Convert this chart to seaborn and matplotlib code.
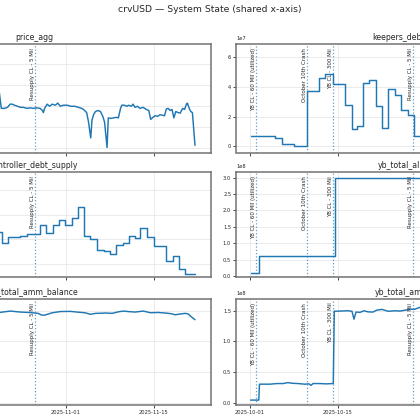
import pandas as pd
import matplotlib
matplotlib.use("Agg")
import matplotlib.pyplot as plt
import matplotlib.dates as mdates
from matplotlib.ticker import MultipleLocator
import seaborn as sns

START = pd.Timestamp("2025-10-01")
BLUE = "#1f77b4"

# all times are day offsets from 2025-10-01 00:00

# price_agg (line)
price_days = [0.33, 1.5, 3.0, 4.5, 6.0, 7.5, 9.0, 9.6, 9.9, 10.2, 11.0, 12.5, 14.0, 15.5,
              17.0, 18.5, 19.6, 20.0, 20.3, 20.7, 21.2, 21.7, 22.1, 22.45, 22.8, 23.3,
              23.7, 24.2, 24.8, 25.3, 25.8, 26.3, 26.9, 27.25, 27.4, 27.6, 28.0, 28.4,
              28.8, 29.3, 29.7, 30.1, 30.6, 31.2, 31.8, 32.4, 33.0, 33.5, 33.8, 34.3,
              34.6, 34.95, 35.15, 35.4, 35.7, 36.1, 36.5, 36.9, 37.15, 37.55, 37.75,
              38.1, 38.6, 39.0, 39.35, 39.7, 39.9, 40.3, 40.7, 41.0, 41.4, 41.7, 42.0,
              42.4, 42.8, 43.3, 43.8, 44.2, 44.5, 44.75, 45.2, 45.6, 46.0, 46.4, 46.7,
              47.0, 47.3, 47.6, 47.9, 48.2, 48.5, 48.9, 49.2, 49.6, 49.9, 50.2, 50.35,
              50.65, 50.9, 51.15, 51.56]
price_vals = [1.0004, 1.0006, 1.0003, 1.0008, 1.0005, 1.0002, 1.0004, 0.9978, 1.0055, 1.0012,
              1.0008, 1.0010, 1.0006, 1.0012, 1.0009, 1.0014, 1.0011, 1.0016, 1.0017, 0.9998,
              0.9998, 0.9999, 1.0002, 1.0002, 1.0001, 1.0000, 0.9999, 0.9999, 0.9998, 0.99985,
              0.9998, 0.99985, 0.9998, 0.9996, 0.9994, 0.9998, 1.0002, 1.0000, 1.0002, 1.0001,
              1.0003, 1.0000, 1.0001, 1.0001, 1.0000, 1.0000, 0.9999, 0.9998, 0.9997, 0.9994,
              0.9985, 0.9970, 0.9987, 0.9992, 0.9995, 0.9996, 0.9995, 0.9990, 0.9985, 0.9961,
              0.9989, 0.99885, 0.9989, 0.99895, 0.9989, 0.9998, 1.0001, 1.0001, 1.0000, 1.0001,
              1.0000, 1.0002, 0.9999, 1.0000, 0.9998, 0.9999, 0.9997, 0.9996, 0.99875, 0.9989,
              0.9991, 0.99905, 0.9992, 0.99915, 0.9991, 0.99975, 0.9998, 0.9996, 0.9997, 0.9989,
              0.9995, 0.9994, 0.99935, 0.9998, 0.9997, 1.0002, 1.0003, 0.9998, 0.9995, 0.9994,
              0.9963]

# controller_debt_supply (steps)
debt_days = [0.33, 1.0, 2.0, 3.0, 4.0, 5.0, 6.0, 7.0, 8.0, 9.0, 10.0, 11.0, 12.0, 13.0,
             14.0, 15.0, 16.0, 17.0, 18.0, 19.0, 20.0, 20.8, 21.69, 23.72, 24.78, 26.79,
             27.86, 28.93, 29.82, 30.89, 31.96, 32.85, 33.8, 34.87, 35.94, 36.99, 38.06,
             38.97, 40.08, 40.98, 41.93, 42.84, 43.91, 44.96, 46.94, 47.99, 48.94, 50.01, 51.6]
debt_vals = [1.205e8, 1.21e8, 1.198e8, 1.215e8, 1.23e8, 1.22e8, 1.24e8, 1.28e8, 1.35e8,
             1.30e8, 1.18e8, 1.15e8, 1.16e8, 1.14e8, 1.13e8, 1.15e8, 1.14e8, 1.12e8,
             1.135e8, 1.12e8, 1.1295e8, 1.0844e8, 1.109e8, 1.112e8, 1.1229e8, 1.1598e8,
             1.127e8, 1.1598e8, 1.1803e8, 1.157e8, 1.1869e8, 1.232e8, 1.1119e8, 1.0996e8,
             1.0574e8, 1.0504e8, 1.041e8, 1.075e8, 1.0844e8, 1.1131e8, 1.1049e8, 1.1459e8,
             1.109e8, 1.0709e8, 1.0107e8, 1.0299e8, 0.9795e8, 0.959e8, 0.959e8]

# left bottom panel (line)
lamm_days = [0.33, 1.4, 1.5, 5.0, 9.0, 13.3, 13.45, 15.0, 17.0, 19.0, 20.2, 20.53, 22.12,
             23.72, 25.31, 26.59, 27.06, 27.54, 28.18, 28.82, 30.09, 31.69, 32.96, 34.08,
             34.87, 35.67, 37.26, 38.38, 39.33, 40.13, 40.93, 42.04, 43.32, 44.43, 45.71,
             46.82, 47.78, 48.42, 49.21, 50.01, 50.49, 50.97, 51.56]
lamm_vals = [0.04e8, 0.04e8, 0.31e8, 0.32e8, 0.31e8, 0.32e8, 1.47e8, 1.48e8, 1.46e8, 1.49e8,
             1.47e8, 1.472e8, 1.493e8, 1.477e8, 1.469e8, 1.455e8, 1.43e8, 1.425e8, 1.445e8,
             1.465e8, 1.485e8, 1.488e8, 1.475e8, 1.465e8, 1.44e8, 1.455e8, 1.461e8, 1.456e8,
             1.48e8, 1.493e8, 1.485e8, 1.477e8, 1.493e8, 1.466e8, 1.47e8, 1.461e8, 1.45e8,
             1.433e8, 1.445e8, 1.456e8, 1.445e8, 1.40e8, 1.352e8]

# keepers_debt_supply (steps)
keep_days = [0.16, 3.98, 5.05, 7.06, 9.04, 11.0, 11.95, 13.15, 15.14, 16.21, 17.0, 18.02,
             19.03, 20.08, 21.08, 22.04, 23.12, 24.1, 25.18, 26.07, 28.0, 29.0, 30.0, 31.0,
             32.0, 33.0, 34.0, 35.0, 36.0, 37.0, 38.0, 39.0, 40.0, 41.0, 42.0, 43.0, 44.0,
             45.0, 46.0, 47.0, 48.0, 49.0, 50.0, 51.56]
keep_vals = [0.72e7, 0.59e7, 0.18e7, 0.02e7, 3.74e7, 4.58e7, 4.87e7, 4.2e7, 2.77e7, 1.2e7,
             1.37e7, 4.28e7, 4.47e7, 2.75e7, 1.22e7, 3.84e7, 3.47e7, 2.48e7, 2.14e7, 0.68e7,
             0.9e7, 2.2e7, 3.5e7, 4.8e7, 5.9e7, 6.55e7, 5.7e7, 4.1e7, 2.9e7, 3.6e7, 4.4e7,
             3.1e7, 2.0e7, 1.4e7, 2.6e7, 3.2e7, 2.1e7, 1.1e7, 0.8e7, 1.5e7, 0.9e7, 0.6e7,
             0.4e7, 0.4e7]

# yb_total_allocated (steps)
alloc_days = [0.16, 1.49, 13.56, 51.56]
alloc_vals = [0.08e8, 0.6e8, 3.0e8, 3.0e8]

# right bottom panel (line)
ramm_days = [0.11, 1.40, 1.51, 2.39, 3.19, 4.30, 5.26, 6.06, 6.69, 7.65, 8.76, 9.40, 9.72,
             10.04, 11.16, 12.11, 13.27, 13.43, 14.34, 15.62, 16.25, 16.57, 16.89, 17.53,
             18.17, 18.8, 19.6, 20.24, 21.04, 21.99, 23.11, 23.9, 24.86, 25.5, 26.14, 27.09,
             28.0, 30.0, 32.0, 34.0, 36.0, 38.0, 40.0, 43.0, 46.0, 49.0, 51.56]
ramm_vals = [0.04e8, 0.04e8, 0.30e8, 0.30e8, 0.30e8, 0.31e8, 0.31e8, 0.326e8, 0.315e8,
             0.31e8, 0.30e8, 0.305e8, 0.28e8, 0.31e8, 0.31e8, 0.305e8, 0.31e8, 1.49e8,
             1.493e8, 1.498e8, 1.49e8, 1.36e8, 1.477e8, 1.472e8, 1.498e8, 1.48e8, 1.477e8,
             1.51e8, 1.52e8, 1.49e8, 1.498e8, 1.493e8, 1.51e8, 1.526e8, 1.52e8, 1.554e8,
             1.56e8, 1.58e8, 1.60e8, 1.59e8, 1.61e8, 1.60e8, 1.58e8, 1.59e8, 1.57e8, 1.55e8,
             1.53e8]

event_days = [1.0, 9.1, 13.2, 26.05]
event_labels = ["YB CL - 60 Mil (utilized)", "October 10th Crash", "YB CL - 300 Mil",
                "Resupply CL - 5 Mil"]


def to_dates(days):
    return START + pd.to_timedelta(days, unit="D")


sns.set_theme(style="whitegrid", rc={
    "axes.edgecolor": "0.45",
    "axes.linewidth": 1.1,
    "grid.color": "0.91",
    "grid.linewidth": 0.6,
    "xtick.bottom": True,
    "ytick.left": True,
    "xtick.major.size": 2,
    "ytick.major.size": 2,
    "xtick.major.width": 0.6,
    "ytick.major.width": 0.6,
    "xtick.labelsize": 3.7,
    "ytick.labelsize": 3.7,
    "xtick.major.pad": 1.5,
    "ytick.major.pad": 1.5,
    "axes.titlesize": 5.6,
    "axes.titlepad": 3,
})
plt.rcParams["font.family"] = ["DejaVu Sans"]

W = 420
fig = plt.figure(figsize=(4.2, 4.2), dpi=100)


def rect(left, top, w, h):
    return [left / W, 1 - (top + h) / W, w / W, h / W]


col_left = [-142.6, 236]
col_w = 353.9
rows = [(44, 108.5), (172.3, 105), (299, 106)]

panels = [
    # (title, days, vals, step, col, row, ylim, ystep)
    ("price_agg", price_days, price_vals, False, 0, 0, (0.99562, 1.0059), 0.002),
    ("keepers_debt_supply", keep_days, keep_vals, True, 1, 0, (-0.41e7, 6.9e7), 2e7),
    ("controller_debt_supply", debt_days, debt_vals, True, 0, 1, (0.944e8, 1.374e8), 0.1e8),
    ("yb_total_allocated", alloc_days, alloc_vals, True, 1, 1, (-0.04e8, 3.16e8), 0.5e8),
    ("lp_total_amm_balance", lamm_days, lamm_vals, False, 0, 2, (-0.04e8, 1.69e8), 0.5e8),
    ("yb_total_amm_debt", ramm_days, ramm_vals, False, 1, 2, (-0.04e8, 1.69e8), 0.5e8),
]

xlim = (to_dates([-2.23])[0], to_dates([54.16])[0])
base = None
for title, days, vals, step, col, row, ylim, ystep in panels:
    top, h = rows[row]
    ax = fig.add_axes(rect(col_left[col], top, col_w, h), sharex=base)
    if base is None:
        base = ax
    sns.lineplot(x=to_dates(days), y=vals, ax=ax, color=BLUE, linewidth=1.05,
                 estimator=None, drawstyle="steps-post" if step else "default")
    for d, lab in zip(event_days, event_labels):
        x = to_dates([d])[0]
        ax.axvline(x, color=BLUE, ls=":", lw=0.9, alpha=0.7)
        ax.text(x, 0.965, lab, transform=ax.get_xaxis_transform(), rotation=90,
                ha="right", va="top", fontsize=4, color="0.15")
    ax.set_ylim(*ylim)
    ax.yaxis.set_major_locator(MultipleLocator(ystep))
    ax.set_title(title)
    ax.set_xlabel("")
    ax.set_ylabel("")
    for s in ax.spines.values():
        s.set_visible(True)
    if row < 2:
        ax.tick_params(labelbottom=False)

base.set_xlim(*xlim)
base.xaxis.set_major_locator(mdates.DayLocator(bymonthday=[1, 15]))
base.xaxis.set_major_formatter(mdates.DateFormatter("%Y-%m-%d"))

fig.suptitle("crvUSD \u2014 System State (shared x-axis)", x=0.5, y=1 - 9.5 / W,
             va="center", fontsize=6.7)

fig.savefig("out.png", dpi=100)
